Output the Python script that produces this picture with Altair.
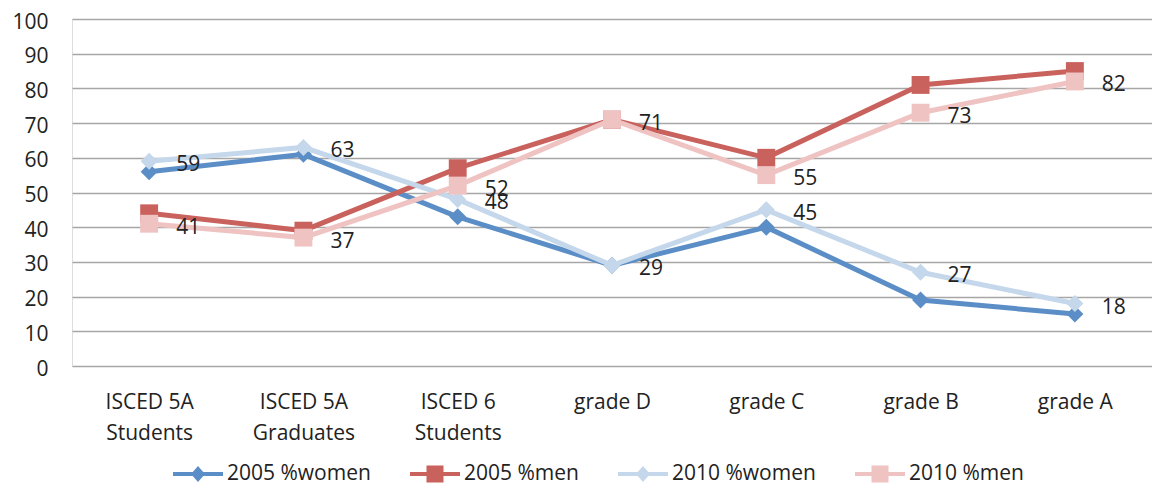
import altair as alt
import pandas as pd

categories = ["ISCED 5A\nStudents", "ISCED 5A\nGraduates", "ISCED 6\nStudents",
              "grade D", "grade C", "grade B", "grade A"]
series_names = ["2005 %women", "2005 %men", "2010 %women", "2010 %men"]
women_2005 = [56, 61, 43, 29, 40, 19, 15]
men_2005 = [44, 39, 57, 71, 60, 81, 85]
women_2010 = [59, 63, 48, 29, 45, 27, 18]
men_2010 = [41, 37, 52, 71, 55, 73, 82]
labelled_series = ["2010 %women", "2010 %men"]

colors = ["#5B8EC6", "#C9615D", "#C4D7EB", "#EFC3C2"]
marker_shapes = ["diamond", "square", "diamond", "square"]
marker_sizes = [290, 320, 290, 320]

# legend symbols: line with marker in the middle
diamond_line = "M-1,-0.08H-0.21L0,-0.32L0.21,-0.08H1V0.08H0.21L0,0.32L-0.21,0.08H-1Z"
square_line = "M-1,-0.08H-0.34V-0.34H0.34V-0.08H1V0.08H0.34V0.34H-0.34V0.08H-1Z"
legend_shapes = [diamond_line, square_line, diamond_line, square_line]

rows = []
for name, vals in zip(series_names, [women_2005, men_2005, women_2010, men_2010]):
    for c, v in zip(categories, vals):
        rows.append({"category": c, "series": name, "value": v})
df = pd.DataFrame(rows)

FONT = "Open Sans"

x_enc = alt.X("category:N", sort=categories,
              scale=alt.Scale(type="point", padding=0.5),
              axis=alt.Axis(title=None, labelExpr="split(datum.label, '\\n')",
                            labelAngle=0, ticks=False, domain=False, grid=False,
                            labelFont=FONT, labelFontSize=21, labelColor="#222222",
                            labelPadding=25, labelLineHeight=31, labelBaseline="top"))
y_enc = alt.Y("value:Q", scale=alt.Scale(domain=[0, 100], nice=False),
              axis=alt.Axis(title=None, values=list(range(0, 101, 10)), ticks=False,
                            domain=False, grid=True, gridColor="#A6A6A6", gridWidth=1.5,
                            labelFont=FONT, labelFontSize=21, labelColor="#222222",
                            labelPadding=24, labelOffset=3))
color_scale = alt.Scale(domain=series_names, range=colors)

base = alt.Chart(df)
layers = []
for name, shp, sz in zip(series_names, marker_shapes, marker_sizes):
    sub = base.transform_filter(alt.datum.series == name)
    layers.append(sub.mark_line(strokeWidth=5).encode(
        x=x_enc, y=y_enc, color=alt.Color("series:N", scale=color_scale, legend=None)))
    layers.append(sub.mark_point(filled=True, opacity=1, shape=shp, size=sz).encode(
        x=x_enc, y=y_enc, color=alt.Color("series:N", scale=color_scale, legend=None)))

labels = base.transform_filter(
    alt.FieldOneOfPredicate(field="series", oneOf=labelled_series)
).mark_text(align="left", baseline="middle", dx=27, dy=4, font=FONT, fontSize=21,
            color="#222222").encode(x=x_enc, y=y_enc, text="value:Q")
layers.append(labels)
main = alt.layer(*layers)

legend_def = alt.Legend(title=None, orient="none", legendX=101, legendY=430,
                        direction="horizontal", columns=4, symbolSize=2500,
                        symbolStrokeWidth=0, symbolOpacity=1, labelFont=FONT,
                        labelFontSize=21, labelColor="#222222", labelOffset=4,
                        columnPadding=39)
legend_layer = base.transform_filter("false").mark_point(filled=True, opacity=1).encode(
    x=x_enc, y=y_enc,
    color=alt.Color("series:N", scale=alt.Scale(domain=series_names, range=colors),
                    legend=legend_def),
    shape=alt.Shape("series:N", scale=alt.Scale(domain=series_names, range=legend_shapes),
                    legend=legend_def))

chart = alt.layer(main, legend_layer).resolve_scale(
    color="independent", shape="independent"
).properties(
    width=1080, height=347,
    autosize=alt.AutoSizeParams(type="none"),
    padding={"left": 64, "top": 11, "right": 0, "bottom": 121},
).configure_view(stroke=None).configure(background="white")

chart.save("out.html", embed_options={"renderer": "svg", "actions": False})
